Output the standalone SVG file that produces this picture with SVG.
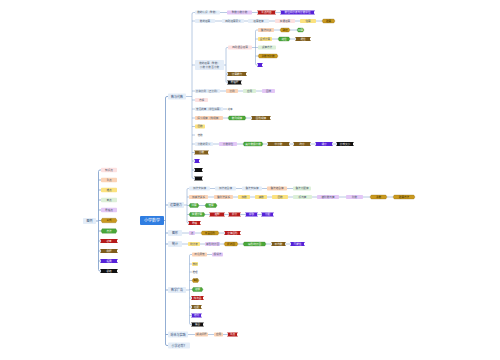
<svg xmlns="http://www.w3.org/2000/svg" width="500" height="360" viewBox="0 0 500 360">
<style>
text{font-family:"Noto Sans CJK SC","Noto Sans",sans-serif;font-size:2.6px;text-anchor:middle;fill:#4a5568}
.tw{fill:#fff}
.tg{fill:#3a2a00}
.tm{font-size:3px;fill:#2d4a73}
.c{fill:none;stroke:#7f9fcb;stroke-width:0.55}
.ct{fill:none;stroke:#7f9fcb;stroke-width:0.85}
.b{fill:#e4edf8}
.pk{fill:#fde1e1}
.pc{fill:#fbd3b6}
.yl{fill:#fbe27f}
.lg{fill:#dcf0d8}
.lv{fill:#e3c7f6}
.gd{fill:#c9991f;stroke:#8a6510;stroke-width:0.3}
.gr{fill:#4aa83a;stroke:#2f7a25;stroke-width:0.3}
.rd{fill:#b51b1b}
.br{fill:#7e5c1c}
.pu{fill:#5622d8}
.bk{fill:#111}
</style>
<rect width="500" height="360" fill="#fff"/>
<g id="connectors">
<path class="ct" d="M96,221 H98.5 M101,170 H100 Q98.5,170 98.5,171.5 V269.5 Q98.5,271 100,271 H101 M98.5,180 H101 M98.5,190 H101 M98.5,200 H101 M98.5,210 H101 M98.5,220.5 H101 M98.5,231 H101 M98.5,241 H101 M98.5,251 H101 M98.5,261 H101"/>
<path class="ct" d="M164,220.5 H165.5 M168,96.5 H167 Q165.5,96.5 165.5,98 V344 Q165.5,345.5 167,345.5 H168 M165.5,205 H168 M165.5,233 H168 M165.5,244 H168 M165.5,290 H168 M165.5,334.5 H168"/>
<path class="c" d="M186,96.5 H192 M195,12.5 H193.5 Q192,12.5 192,14 V177 Q192,178.5 193.5,178.5 H195 M192,21 H195 M192,65 H195 M192,91 H195 M192,100 H195 M192,109 H195 M192,118 H195 M192,126.5 H195 M192,135 H195 M192,144 H195 M192,152.5 H195 M192,161 H195 M192,170 H195"/>
<path class="c" d="M220,12.5 H227 M252,12.5 H258 M275,12.5 H281 M215,21 H222 M244,21 H248 M269,21 H275 M295,21 H300 M316,21 H322"/>
<path class="c" d="M224,65 H226 M228,47.5 H227.2 Q226,47.5 226,48.7 V81.3 Q226,82.5 227.2,82.5 H228 M226,74 H228 M252,47.5 H258 M258,30 H256.7 Q255.5,30 255.5,31.2 V63.8 Q255.5,65 256.7,65 H258 M255.5,39 H258 M255.5,56 H258 M274,30 H280 M290,30 H297 M272,39 H278 M290,39 H296"/>
<path class="c" d="M220,91 H226 M238,91 H243 M256,91 H262 M223,109 H227 M223,118 H228 M246,118 H252 M213,144 H219 M237,144 H243 M263,144 H268 M289,144 H294 M310,144 H316 M332,144 H337"/>
<path class="c" d="M184,205 H187 M189,188.5 H188.2 Q187,188.5 187,189.7 V221.8 Q187,223 188.2,223 H189 M187,197 H189 M187,205.5 H189 M187,214.5 H189 M210,188.5 H215 M236,188.5 H242 M262,188.5 H267 M287,188.5 H293 M208,197 H214 M233,197 H238 M250,197 H255 M267,197 H272 M288,197 H293 M312,197 H317 M339,197 H346 M363,197 H370 M387,197 H393 M199,205.5 H205 M205,214.5 H210 M224,214.5 H229 M240,214.5 H246 M257,214.5 H262"/>
<path class="c" d="M182,233 H189 M195,233 H201 M219,233 H225 M182,244 H188 M200,244 H205 M220,244 H224 M238,244 H243 M266,244 H272 M285,244 H291"/>
<path class="c" d="M186,290 H189.5 M192,254.5 H190.7 Q189.5,254.5 189.5,255.7 V323.3 Q189.5,324.5 190.7,324.5 H192 M189.5,264 H192 M189.5,272 H192 M189.5,280.5 H192 M189.5,289.5 H192 M189.5,298 H192 M189.5,307 H192 M189.5,315.5 H192 M207,254.5 H212 M188,334.5 H195 M208,334.5 H214 M223,334.5 H228"/>
</g>
<g id="center"><rect x="140" y="216" width="24" height="9" rx="1" fill="#2f7de1"/><text x="152" y="222" class="tw" style="font-size:4px">小学数学</text></g>
<g id="legend"><rect class="b" x="83" y="218" width="13" height="6" rx="0.8"/><text class="tm" x="89.5" y="222.1">图例</text></g>
<g id="lg1"><rect class="pk" x="101" y="167.75" width="16" height="4.5" rx="0.8"/><text x="109" y="171">知识点</text></g>
<g id="lg2"><rect class="pc" x="101" y="177.75" width="16" height="4.5" rx="0.8"/><text x="109" y="181">重点</text></g>
<g id="lg3"><rect class="yl" x="101" y="187.75" width="16" height="4.5" rx="0.8"/><text x="109" y="191">难点</text></g>
<g id="lg4"><rect class="lg" x="101" y="197.75" width="16" height="4.5" rx="0.8"/><text x="109" y="201">考点</text></g>
<g id="lg5"><rect class="lv" x="101" y="207.75" width="16" height="4.5" rx="0.8"/><text x="109" y="211">易错点</text></g>
<g id="lg6"><path class="gd" d="M101,220.5 l1.2,-2.25 h13.6 l1.2,2.25 l-1.2,2.25 h-13.6 z"/><text class="tg" x="109" y="221.4">公式</text></g>
<g id="lg7"><path class="gr" d="M101,231 l1.2,-2.25 h13.6 l1.2,2.25 l-1.2,2.25 h-13.6 z"/><text class="tw" x="109" y="231.9">方法</text></g>
<g id="lg8"><path class="rd" d="M100.2,239 h17.6 v0.8 h-0.8 v2.4 h0.8 v0.8 h-17.6 v-0.8 h0.8 v-2.4 h-0.8 z"/><text class="tw" x="109" y="241.9">必考</text></g>
<g id="lg9"><path class="br" d="M100.2,249 h17.6 v0.8 h-0.8 v2.4 h0.8 v0.8 h-17.6 v-0.8 h0.8 v-2.4 h-0.8 z"/><text class="tw" x="109" y="251.9">例题</text></g>
<g id="lg10"><path class="pu" d="M100.2,259 h17.6 v0.8 h-0.8 v2.4 h0.8 v0.8 h-17.6 v-0.8 h0.8 v-2.4 h-0.8 z"/><text class="tw" x="109" y="261.9">拓展</text></g>
<g id="lg11"><path class="bk" d="M100.2,269 h17.6 v0.8 h-0.8 v2.4 h0.8 v0.8 h-17.6 v-0.8 h0.8 v-2.4 h-0.8 z"/><text class="tw" x="109" y="271.9">总结</text></g>
<g id="m1"><rect class="b" x="168" y="93.5" width="18" height="6" rx="0.8"/><text class="tm" x="177" y="97.6">数与代数</text></g>
<g id="m2"><rect class="b" x="168" y="202" width="16" height="6" rx="0.8"/><text class="tm" x="176" y="206.1">运算能力</text></g>
<g id="m3"><rect class="b" x="168" y="230" width="14" height="6" rx="0.8"/><text class="tm" x="175" y="234.1">图形</text></g>
<g id="m4"><rect class="b" x="168" y="241" width="14" height="6" rx="0.8"/><text class="tm" x="175" y="245.1">统计</text></g>
<g id="m5"><rect class="b" x="168" y="287" width="18" height="6" rx="0.8"/><text class="tm" x="177" y="291.1">数学广角</text></g>
<g id="m6"><rect class="b" x="168" y="331.5" width="20" height="6" rx="0.8"/><text class="tm" x="178" y="335.6">综合与实践</text></g>
<g id="m7"><rect class="b" x="168" y="342.5" width="22" height="6" rx="0.8"/><text class="tm" x="179" y="346.6">小学必背？</text></g>
<g id="c1a"><rect class="b" x="195" y="10.5" width="25" height="4" rx="0.8"/><text x="207.5" y="13.4">数的认识（整数）</text></g>
<g id="c1b"><rect class="lv" x="227" y="10.5" width="25" height="4" rx="0.8"/><text x="239.5" y="13.4">整数小数分数</text></g>
<g id="c1c"><path class="rd" d="M257.2,10.5 h18.6 v0.8 h-0.8 v2.4 h0.8 v0.8 h-18.6 v-0.8 h0.8 v-2.4 h-0.8 z"/><text class="tw" x="266.5" y="13.4">重点内容</text></g>
<g id="c1d"><path class="pu" d="M280.2,10.5 h34.6 v0.8 h-0.8 v2.4 h0.8 v0.8 h-34.6 v-0.8 h0.8 v-2.4 h-0.8 z"/><text class="tw" x="297.5" y="13.4">数位顺序表与计数单位</text></g>
<g id="c2a"><rect class="b" x="195" y="19" width="20" height="4" rx="0.8"/><text x="205" y="21.9">数的运算</text></g>
<g id="c2b"><rect class="b" x="222" y="19" width="22" height="4" rx="0.8"/><text x="233" y="21.9">四则运算意义</text></g>
<g id="c2c"><rect class="b" x="248" y="19" width="21" height="4" rx="0.8"/><text x="258.5" y="21.9">运算定律</text></g>
<g id="c2d"><rect class="pk" x="275" y="19" width="20" height="4" rx="0.8"/><text x="285" y="21.9">简便运算</text></g>
<g id="c2e"><rect class="yl" x="300" y="19" width="16" height="4" rx="0.8"/><text x="308" y="21.9">估算</text></g>
<g id="c2f"><path class="gd" d="M322,21 l1.2,-2 h10.6 l1.2,2 l-1.2,2 h-10.6 z"/><text class="tg" x="328.5" y="21.9">验算</text></g>
<g id="c3"><rect class="b" x="195" y="60" width="29" height="10" rx="0.8"/><text x="209.5" y="64.2">数的运算（整数）</text><text x="209.5" y="68.2">小数 分数 百分数</text></g>
<g id="d1"><rect class="pk" x="228" y="45.5" width="24" height="4" rx="0.8"/><text x="240" y="48.4">四则混合运算</text></g>
<g id="e1a"><rect class="pc" x="258" y="28" width="16" height="4" rx="0.8"/><text x="266" y="30.9">乘法口诀</text></g>
<g id="e1b"><path class="gd" d="M280,30 l1.2,-2 h7.6 l1.2,2 l-1.2,2 h-7.6 z"/><text class="tg" x="285" y="30.9">熟记</text></g>
<g id="e1c"><path class="gr" d="M297,30 l1.2,-2 h4.6 l1.2,2 l-1.2,2 h-4.6 z"/><text class="tw" x="300.5" y="30.9">口算</text></g>
<g id="e2a"><rect class="yl" x="258" y="37" width="14" height="4" rx="0.8"/><text x="265" y="39.9">竖式计算</text></g>
<g id="e2b"><path class="gr" d="M278,39 l1.2,-2 h9.6 l1.2,2 l-1.2,2 h-9.6 z"/><text class="tw" x="284" y="39.9">进位</text></g>
<g id="e2c"><path class="br" d="M295.2,37 h15.6 v0.8 h-0.8 v2.4 h0.8 v0.8 h-15.6 v-0.8 h0.8 v-2.4 h-0.8 z"/><text class="tw" x="303" y="39.9">退位</text></g>
<g id="e3"><rect class="lg" x="258" y="45.5" width="18" height="4" rx="0.8"/><text x="267" y="48.4">试商方法</text></g>
<g id="e4"><path class="gd" d="M258,56 l1.2,-2 h17.6 l1.2,2 l-1.2,2 h-17.6 z"/><text class="tg" x="268" y="56.9">余数与除数</text></g>
<g id="e5"><path class="pu" d="M257.2,63 h5.6 v0.8 h-0.8 v2.4 h0.8 v0.8 h-5.6 v-0.8 h0.8 v-2.4 h-0.8 z"/></g>
<g id="d2"><path class="br" d="M227.2,72 h19.6 v0.8 h-0.8 v2.4 h0.8 v0.8 h-19.6 v-0.8 h0.8 v-2.4 h-0.8 z"/><text class="tw" x="237" y="74.9">计算能力</text></g>
<g id="d3"><path class="bk" d="M227.2,80.5 h14.6 v0.8 h-0.8 v2.4 h0.8 v0.8 h-14.6 v-0.8 h0.8 v-2.4 h-0.8 z"/><text class="tw" x="234.5" y="83.4">易错题</text></g>
<g id="c4a"><rect class="b" x="195" y="89" width="25" height="4" rx="0.8"/><text x="207.5" y="91.9">比和比例（正比例）</text></g>
<g id="c4b"><rect class="pc" x="226" y="89" width="12" height="4" rx="0.8"/><text x="232" y="91.9">比例</text></g>
<g id="c4c"><rect class="lg" x="243" y="89" width="13" height="4" rx="0.8"/><text x="249.5" y="91.9">应用</text></g>
<g id="c4d"><rect class="lv" x="262" y="89" width="13" height="4" rx="0.8"/><text x="268.5" y="91.9">图像</text></g>
<g id="c5"><rect class="pk" x="195" y="98" width="13" height="4" rx="0.8"/><text x="201.5" y="100.9">方程</text></g>
<g id="c6a"><rect class="b" x="195" y="107" width="28" height="4" rx="0.8"/><text x="209" y="109.9">常见的量（单位换算）</text></g>
<g id="c6b"><text x="230" y="109.9">进率</text></g>
<g id="c7a"><rect class="pc" x="195" y="116" width="28" height="4" rx="0.8"/><text x="209" y="118.9">探索规律（找规律）</text></g>
<g id="c7b"><path class="gr" d="M228,118 l1.2,-2 h15.6 l1.2,2 l-1.2,2 h-15.6 z"/><text class="tw" x="237" y="118.9">数列规律</text></g>
<g id="c7c"><path class="br" d="M251.2,116 h19.6 v0.8 h-0.8 v2.4 h0.8 v0.8 h-19.6 v-0.8 h0.8 v-2.4 h-0.8 z"/><text class="tw" x="261" y="118.9">图形规律</text></g>
<g id="c8"><rect class="yl" x="195" y="124.5" width="10" height="4" rx="0.8"/><text x="200" y="127.4">因数</text></g>
<g id="c9"><text x="200" y="135.9">倍数</text></g>
<g id="c10a"><rect class="b" x="195" y="142" width="18" height="4" rx="0.8"/><text x="204" y="144.9">分数的意义</text></g>
<g id="c10b"><rect class="lv" x="219" y="142" width="18" height="4" rx="0.8"/><text x="228" y="144.9">分数单位</text></g>
<g id="c10c"><path class="gr" d="M243,144 l1.2,-2 h17.6 l1.2,2 l-1.2,2 h-17.6 z"/><text class="tw" x="253" y="144.9">真分数假分数</text></g>
<g id="c10d"><path class="br" d="M267.2,142 h22.6 v0.8 h-0.8 v2.4 h0.8 v0.8 h-22.6 v-0.8 h0.8 v-2.4 h-0.8 z"/><text class="tw" x="278.5" y="144.9">带分数</text></g>
<g id="c10e"><path class="br" d="M293.2,142 h17.6 v0.8 h-0.8 v2.4 h0.8 v0.8 h-17.6 v-0.8 h0.8 v-2.4 h-0.8 z"/><text class="tw" x="302" y="144.9">约分</text></g>
<g id="c10f"><path class="pu" d="M315.2,142 h17.6 v0.8 h-0.8 v2.4 h0.8 v0.8 h-17.6 v-0.8 h0.8 v-2.4 h-0.8 z"/><text class="tw" x="324" y="144.9">通分</text></g>
<g id="c10g"><path class="bk" d="M336.2,142 h17.6 v0.8 h-0.8 v2.4 h0.8 v0.8 h-17.6 v-0.8 h0.8 v-2.4 h-0.8 z"/><text class="tw" x="345" y="144.9">比较大小</text></g>
<g id="c11"><path class="br" d="M194.2,150.5 h14.6 v0.8 h-0.8 v2.4 h0.8 v0.8 h-14.6 v-0.8 h0.8 v-2.4 h-0.8 z"/><text class="tw" x="201.5" y="153.4">小数</text></g>
<g id="c12"><path class="pu" d="M194.2,159 h5.6 v0.8 h-0.8 v2.4 h0.8 v0.8 h-5.6 v-0.8 h0.8 v-2.4 h-0.8 z"/></g>
<g id="c13"><path class="bk" d="M194.2,168 h8.6 v0.8 h-0.8 v2.4 h0.8 v0.8 h-8.6 v-0.8 h0.8 v-2.4 h-0.8 z"/></g>
<g id="c14"><path class="bk" d="M194.2,176.5 h8.6 v0.8 h-0.8 v2.4 h0.8 v0.8 h-8.6 v-0.8 h0.8 v-2.4 h-0.8 z"/></g>
<g id="r1a"><rect class="b" x="189" y="186.5" width="21" height="4" rx="0.8"/><text x="199.5" y="189.4">加法交换律</text></g>
<g id="r1b"><rect class="b" x="215" y="186.5" width="21" height="4" rx="0.8"/><text x="225.5" y="189.4">加法结合律</text></g>
<g id="r1c"><rect class="b" x="242" y="186.5" width="20" height="4" rx="0.8"/><text x="252" y="189.4">乘法交换律</text></g>
<g id="r1d"><rect class="pc" x="267" y="186.5" width="20" height="4" rx="0.8"/><text x="277" y="189.4">乘法结合律</text></g>
<g id="r1e"><rect class="lg" x="293" y="186.5" width="18" height="4" rx="0.8"/><text x="302" y="189.4">乘法分配律</text></g>
<g id="r2a"><rect class="pc" x="189" y="195" width="19" height="4" rx="0.8"/><text x="198.5" y="197.9">加减法关系</text></g>
<g id="r2b"><rect class="pc" x="214" y="195" width="19" height="4" rx="0.8"/><text x="223.5" y="197.9">乘除法关系</text></g>
<g id="r2c"><rect class="yl" x="238" y="195" width="12" height="4" rx="0.8"/><text x="244" y="197.9">加数</text></g>
<g id="r2d"><rect class="yl" x="255" y="195" width="12" height="4" rx="0.8"/><text x="261" y="197.9">减数</text></g>
<g id="r2e"><rect class="yl" x="272" y="195" width="16" height="4" rx="0.8"/><text x="280" y="197.9">因数</text></g>
<g id="r2f"><rect class="lg" x="293" y="195" width="19" height="4" rx="0.8"/><text x="302.5" y="197.9">积与商</text></g>
<g id="r2g"><rect class="lv" x="317" y="195" width="22" height="4" rx="0.8"/><text x="328" y="197.9">被除数与商</text></g>
<g id="r2h"><rect class="lv" x="346" y="195" width="17" height="4" rx="0.8"/><text x="354.5" y="197.9">除数</text></g>
<g id="r2i"><path class="gd" d="M370,197 l1.2,-2 h14.6 l1.2,2 l-1.2,2 h-14.6 z"/><text class="tg" x="378.5" y="197.9">余数</text></g>
<g id="r2j"><path class="gd" d="M393,197 l1.2,-2 h19.6 l1.2,2 l-1.2,2 h-19.6 z"/><text class="tg" x="404" y="197.9">验算方法</text></g>
<g id="r3a"><path class="gr" d="M189,205.5 l1.2,-2 h7.6 l1.2,2 l-1.2,2 h-7.6 z"/><text class="tw" x="194" y="206.4">口算</text></g>
<g id="r3b"><path class="gr" d="M205,205.5 l1.2,-2 h9.6 l1.2,2 l-1.2,2 h-9.6 z"/><text class="tw" x="211" y="206.4">笔算</text></g>
<g id="r4a"><path class="gr" d="M189,214.5 l1.2,-2 h13.6 l1.2,2 l-1.2,2 h-13.6 z"/><text class="tw" x="197" y="215.4">简便计算</text></g>
<g id="r4b"><path class="rd" d="M209.2,212.5 h15.6 v0.8 h-0.8 v2.4 h0.8 v0.8 h-15.6 v-0.8 h0.8 v-2.4 h-0.8 z"/><text class="tw" x="217" y="215.4">凑整</text></g>
<g id="r4c"><path class="rd" d="M228.2,212.5 h12.6 v0.8 h-0.8 v2.4 h0.8 v0.8 h-12.6 v-0.8 h0.8 v-2.4 h-0.8 z"/><text class="tw" x="234.5" y="215.4">拆分</text></g>
<g id="r4d"><path class="pu" d="M245.2,212.5 h12.6 v0.8 h-0.8 v2.4 h0.8 v0.8 h-12.6 v-0.8 h0.8 v-2.4 h-0.8 z"/><text class="tw" x="251.5" y="215.4">提取</text></g>
<g id="r4e"><path class="pu" d="M261.2,212.5 h12.6 v0.8 h-0.8 v2.4 h0.8 v0.8 h-12.6 v-0.8 h0.8 v-2.4 h-0.8 z"/><text class="tw" x="267.5" y="215.4">分配</text></g>
<g id="r5"><path class="rd" d="M188.2,221 h12.6 v0.8 h-0.8 v2.4 h0.8 v0.8 h-12.6 v-0.8 h0.8 v-2.4 h-0.8 z"/><text class="tw" x="194.5" y="223.9">易错</text></g>
<g id="g3a"><rect class="lv" x="189" y="231" width="6" height="4" rx="0.8"/><text x="192" y="233.9">点</text></g>
<g id="g3b"><path class="gd" d="M201,233 l1.2,-2 h15.6 l1.2,2 l-1.2,2 h-15.6 z"/><text class="tg" x="210" y="233.9">平面图形</text></g>
<g id="g3c"><path class="rd" d="M224.2,231 h16.6 v0.8 h-0.8 v2.4 h0.8 v0.8 h-16.6 v-0.8 h0.8 v-2.4 h-0.8 z"/><text class="tw" x="232.5" y="233.9">立体图形</text></g>
<g id="g4a"><rect class="yl" x="188" y="242" width="12" height="4" rx="0.8"/><text x="194" y="244.9">统计表</text></g>
<g id="g4b"><rect class="lv" x="205" y="242" width="15" height="4" rx="0.8"/><text x="212.5" y="244.9">条形统计图</text></g>
<g id="g4c"><path class="gd" d="M224,244 l1.2,-2 h11.6 l1.2,2 l-1.2,2 h-11.6 z"/><text class="tg" x="231" y="244.9">折线图</text></g>
<g id="g4d"><path class="gr" d="M243,244 l1.2,-2 h20.6 l1.2,2 l-1.2,2 h-20.6 z"/><text class="tw" x="254.5" y="244.9">扇形统计图</text></g>
<g id="g4e"><path class="br" d="M271.2,242 h14.6 v0.8 h-0.8 v2.4 h0.8 v0.8 h-14.6 v-0.8 h0.8 v-2.4 h-0.8 z"/><text class="tw" x="278.5" y="244.9">平均数</text></g>
<g id="g4f"><path class="pu" d="M290.2,242 h14.6 v0.8 h-0.8 v2.4 h0.8 v0.8 h-14.6 v-0.8 h0.8 v-2.4 h-0.8 z"/><text class="tw" x="297.5" y="244.9">可能性</text></g>
<g id="s1a"><rect class="pc" x="192" y="252.5" width="15" height="4" rx="0.8"/><text x="199.5" y="255.4">鸡兔同笼</text></g>
<g id="s1b"><rect class="lv" x="212" y="252.5" width="11" height="4" rx="0.8"/><text x="217.5" y="255.4">假设法</text></g>
<g id="s2"><rect class="yl" x="192" y="262" width="6" height="4" rx="0.8"/><text x="195" y="264.9" style="font-size:2.3px">植树</text></g>
<g id="s3"><text x="195" y="272.9">推理</text></g>
<g id="s4"><path class="gd" d="M192,280.5 l1.2,-2 h4.6 l1.2,2 l-1.2,2 h-4.6 z"/><text class="tg" x="195.5" y="281.4" style="font-size:2.3px">抽屉</text></g>
<g id="s5"><path class="gr" d="M192,289.5 l1.2,-2 h8.6 l1.2,2 l-1.2,2 h-8.6 z"/><text class="tw" x="197.5" y="290.4">烙饼</text></g>
<g id="s6"><path class="rd" d="M191.2,296 h12.6 v0.8 h-0.8 v2.4 h0.8 v0.8 h-12.6 v-0.8 h0.8 v-2.4 h-0.8 z"/><text class="tw" x="197.5" y="298.9">找次品</text></g>
<g id="s7"><path class="br" d="M191.2,305 h10.6 v0.8 h-0.8 v2.4 h0.8 v0.8 h-10.6 v-0.8 h0.8 v-2.4 h-0.8 z"/><text class="tw" x="196.5" y="307.9">搭配</text></g>
<g id="s8"><path class="pu" d="M191.2,313.5 h10.6 v0.8 h-0.8 v2.4 h0.8 v0.8 h-10.6 v-0.8 h0.8 v-2.4 h-0.8 z"/><text class="tw" x="196.5" y="316.4">排列</text></g>
<g id="s9"><path class="bk" d="M191.2,322.5 h12.6 v0.8 h-0.8 v2.4 h0.8 v0.8 h-12.6 v-0.8 h0.8 v-2.4 h-0.8 z"/><text class="tw" x="197.5" y="325.4">集合</text></g>
<g id="p1"><rect class="pc" x="195" y="332.5" width="13" height="4" rx="0.8"/><text x="201.5" y="335.4">解决问题</text></g>
<g id="p2"><rect class="pc" x="214" y="332.5" width="9" height="4" rx="0.8"/><text x="218.5" y="335.4">应用</text></g>
<g id="p3"><path class="rd" d="M227.2,332.5 h10.6 v0.8 h-0.8 v2.4 h0.8 v0.8 h-10.6 v-0.8 h0.8 v-2.4 h-0.8 z"/><text class="tw" x="232.5" y="335.4">重点</text></g>
</svg>
